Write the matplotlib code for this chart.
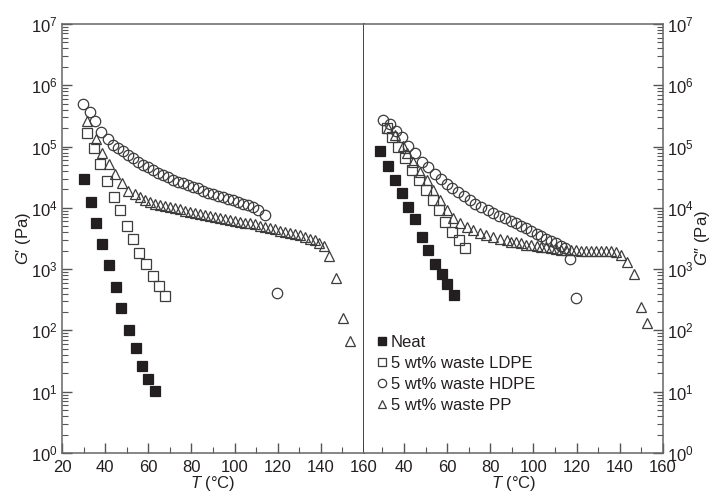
import matplotlib
matplotlib.use('Agg')
import matplotlib.pyplot as plt
from matplotlib.lines import Line2D
from matplotlib.ticker import LogLocator, MultipleLocator, NullFormatter

plt.rcParams['font.family'] = ['Liberation Sans', 'DejaVu Sans']
plt.rcParams['mathtext.fontset'] = 'custom'
plt.rcParams['mathtext.rm'] = 'Liberation Sans'
plt.rcParams['mathtext.it'] = 'Liberation Sans:italic'

INK = '#231f20'

# ---- storage modulus G' (left panel) ----
neat_T1 = [30.2, 33.3, 35.8, 38.7, 41.8, 44.9, 47.5, 50.9, 54.2, 56.9, 60.0, 63.3]
neat_G1 = [29500, 12600, 5600, 2600, 1150, 510, 235, 100, 51, 26, 16, 10.2]

ldpe_T1 = [31.7, 34.7, 37.6, 41.0, 44.1, 46.9, 50.0, 53.1, 55.8, 58.9, 62.3, 65.1, 67.9]
ldpe_G1 = [166000, 95500, 51300, 27500, 15100, 9120, 5130, 3090, 1860, 1200, 759, 525, 363]

hdpe_T1 = [29.9, 33.0, 35.5, 38.1, 41.2, 43.8, 46.1, 48.4, 50.7, 53.1, 55.4, 57.7, 60.0,
           62.3, 64.6, 67.0, 69.3, 71.6, 73.9, 76.2, 78.6, 80.9, 83.2, 85.5, 87.8, 90.1,
           92.5, 94.8, 97.1, 99.4, 101.7, 104.0, 106.4, 108.7, 111.0, 114.1, 119.8]
hdpe_G1 = [501000, 363000, 263000, 174000, 132000, 105000, 95500, 83200, 72400, 64600,
           56200, 50100, 45700, 41700, 37200, 33900, 31600, 28200, 26900, 25100, 23400,
           21900, 20900, 19100, 17800, 16600, 15500, 14800, 14100, 13500, 12600, 11700,
           11200, 10200, 9120, 7590, 407]

pp_T1 = [31.6, 35.9, 38.5, 41.6, 44.6, 47.6, 50.7, 53.6, 56.2, 58.5, 60.8, 63.1, 65.4,
         67.8, 70.1, 72.4, 74.7, 77.0, 79.3, 81.7, 84.0, 86.3, 88.6, 90.9, 93.2, 95.6,
         97.9, 100.2, 102.5, 104.8, 107.2, 109.5, 111.8, 114.1, 116.4, 118.7, 121.1,
         123.4, 125.7, 128.0, 130.3, 132.7, 135.0, 137.3, 139.3, 141.5, 143.9, 147.0,
         150.3, 153.3]
pp_G1 = [257000, 135000, 77600, 52500, 36300, 25700, 19100, 16600, 15100, 13500, 12600,
         11700, 11200, 10700, 10200, 9770, 9550, 8910, 8710, 8320, 7940, 7590, 7410, 7080,
         6760, 6460, 6310, 6030, 5890, 5750, 5620, 5370, 5010, 4900, 4680, 4470, 4270,
         4070, 3890, 3720, 3630, 3390, 3160, 2950, 2690, 2400, 1620, 708, 158, 68]

# ---- loss modulus G'' (right panel) ----
neat_T2 = [28.9, 32.7, 35.8, 38.9, 41.7, 45.1, 48.5, 51.2, 54.3, 57.4, 59.7, 63.0]
neat_G2 = [83200, 49000, 28800, 17800, 10500, 6610, 3390, 2040, 1200, 832, 575, 380]

ldpe_T2 = [32.1, 34.4, 37.2, 40.5, 43.7, 46.9, 50.2, 53.4, 56.2, 59.0, 62.2, 65.5, 68.2]
ldpe_G2 = [200000, 141000, 100000, 64600, 41700, 28200, 19500, 13500, 9120, 5890, 4070,
           2950, 2190]

hdpe_T2 = [30.4, 33.5, 36.2, 38.9, 42.0, 45.1, 48.2, 51.2, 54.3, 57.1, 59.7, 62.3, 65.1,
           67.9, 70.5, 73.1, 75.9, 78.7, 81.3, 83.9, 86.7, 89.5, 92.1, 94.4, 96.7, 99.0,
           101.4, 103.7, 106.0, 108.3, 110.6, 112.9, 114.4, 116.8, 119.9]
hdpe_G2 = [275000, 234000, 182000, 141000, 102000, 77600, 56200, 45700, 36300, 29500,
           24500, 20900, 18200, 15500, 13500, 11700, 10500, 9120, 8130, 7410, 6760, 6170,
           5620, 5010, 4680, 4270, 3800, 3470, 3160, 2880, 2690, 2400, 2190, 1450, 339]

pp_T2 = [32.7, 35.8, 39.7, 41.2, 44.3, 47.4, 50.5, 53.5, 56.6, 59.7, 62.8, 65.9, 69.0,
         72.0, 75.1, 78.2, 81.3, 84.4, 87.5, 89.8, 92.1, 94.4, 96.7, 99.0, 101.4, 103.7,
         106.0, 108.3, 110.6, 112.9, 115.2, 117.5, 119.9, 122.2, 124.5, 126.8, 129.1,
         131.4, 133.7, 136.0, 138.3, 140.7, 143.4, 146.4, 149.9, 152.5]
pp_G2 = [200000, 155000, 102000, 77600, 56200, 38900, 28200, 19500, 13500, 9120, 6760,
         5620, 4790, 4370, 3890, 3630, 3390, 3160, 2950, 2820, 2750, 2630, 2510, 2450,
         2400, 2340, 2290, 2190, 2140, 2090, 2040, 2040, 2040, 2000, 2000, 2000, 2000,
         2000, 2000, 2000, 1910, 1700, 1320, 832, 245, 132]

labels = ['Neat', '5 wt% waste LDPE', '5 wt% waste HDPE', '5 wt% waste PP']
markers = ['s', 's', 'o', '^']

fig = plt.figure(figsize=(7.12, 4.96), dpi=100)
ax1 = fig.add_axes([0.0871, 0.0867, 0.4242, 0.8649])
ax2 = fig.add_axes([0.5113, 0.0867, 0.4199, 0.8649])

ms = 7.5
mew = 0.9
edge = '#3c3c3c'


def draw(ax, series):
    for (t, g), m, i in zip(series, markers, range(4)):
        if i == 0:
            ax.plot(t, g, m, ms=ms - 0.5, mfc=INK, mec=INK, mew=mew)
        else:
            ax.plot(t, g, m, ms=ms, mfc='none', mec=edge, mew=mew)


draw(ax1, [(neat_T1, neat_G1), (ldpe_T1, ldpe_G1), (hdpe_T1, hdpe_G1), (pp_T1, pp_G1)])
draw(ax2, [(neat_T2, neat_G2), (ldpe_T2, ldpe_G2), (hdpe_T2, hdpe_G2), (pp_T2, pp_G2)])

ax1.set_xlim(20, 160)
ax2.set_xlim(21.5, 160)

for ax in (ax1, ax2):
    ax.set_yscale('log')
    ax.set_ylim(1, 1e7)
    ax.yaxis.set_major_locator(LogLocator(base=10, numticks=10))
    ax.yaxis.set_minor_locator(LogLocator(base=10, subs=range(2, 10), numticks=10))
    ax.yaxis.set_minor_formatter(NullFormatter())
    ax.xaxis.set_major_locator(MultipleLocator(20))
    ax.xaxis.set_minor_locator(MultipleLocator(10))
    ax.tick_params(which='both', direction='in', colors='#555555', labelcolor=INK,
                   labelsize=12, top=False)
    ax.tick_params(which='major', length=7, width=1)
    ax.tick_params(which='minor', length=4, width=0.8)
    ax.tick_params(axis='x', which='major', pad=5)
    ax.tick_params(axis='y', which='major', pad=3)
    for s in ax.spines.values():
        s.set_color('#666666')
        s.set_linewidth(1.1)
    ax.set_xlabel(r'$T$ (°C)', fontsize=12, color=INK)
    ax.xaxis.set_label_coords(0.5, -0.05)

ax1.spines['right'].set_color('#111111')
ax1.tick_params(which='both', right=False)
ax2.spines['left'].set_visible(False)
ax2.tick_params(which='both', left=False, labelleft=False, right=True, labelright=True)

ax1.set_ylabel('$G$\u2032 (Pa)', fontsize=12, color=INK)
ax1.yaxis.set_label_coords(-0.095, 0.5)
ax2.yaxis.set_label_position('right')
ax2.set_ylabel('$G$\u2033 (Pa)', fontsize=12, color=INK, rotation=90)
ax2.yaxis.set_label_coords(1.10, 0.5)

handles = []
for i, (m, lab) in enumerate(zip(markers, labels)):
    if i == 0:
        handles.append(Line2D([], [], ls='none', marker=m, ms=6, mfc=INK, mec=INK, label=lab))
    else:
        handles.append(Line2D([], [], ls='none', marker=m, ms=6, mfc='none', mec=edge,
                              mew=0.9, label=lab))
ax2.legend(handles=handles, loc='upper left', bbox_to_anchor=(0.02, 0.29), frameon=False,
           fontsize=12, handlelength=0.6, handletextpad=0.25, labelspacing=0.35,
           borderaxespad=0, labelcolor=INK)

fig.savefig('out.png', dpi=100)
